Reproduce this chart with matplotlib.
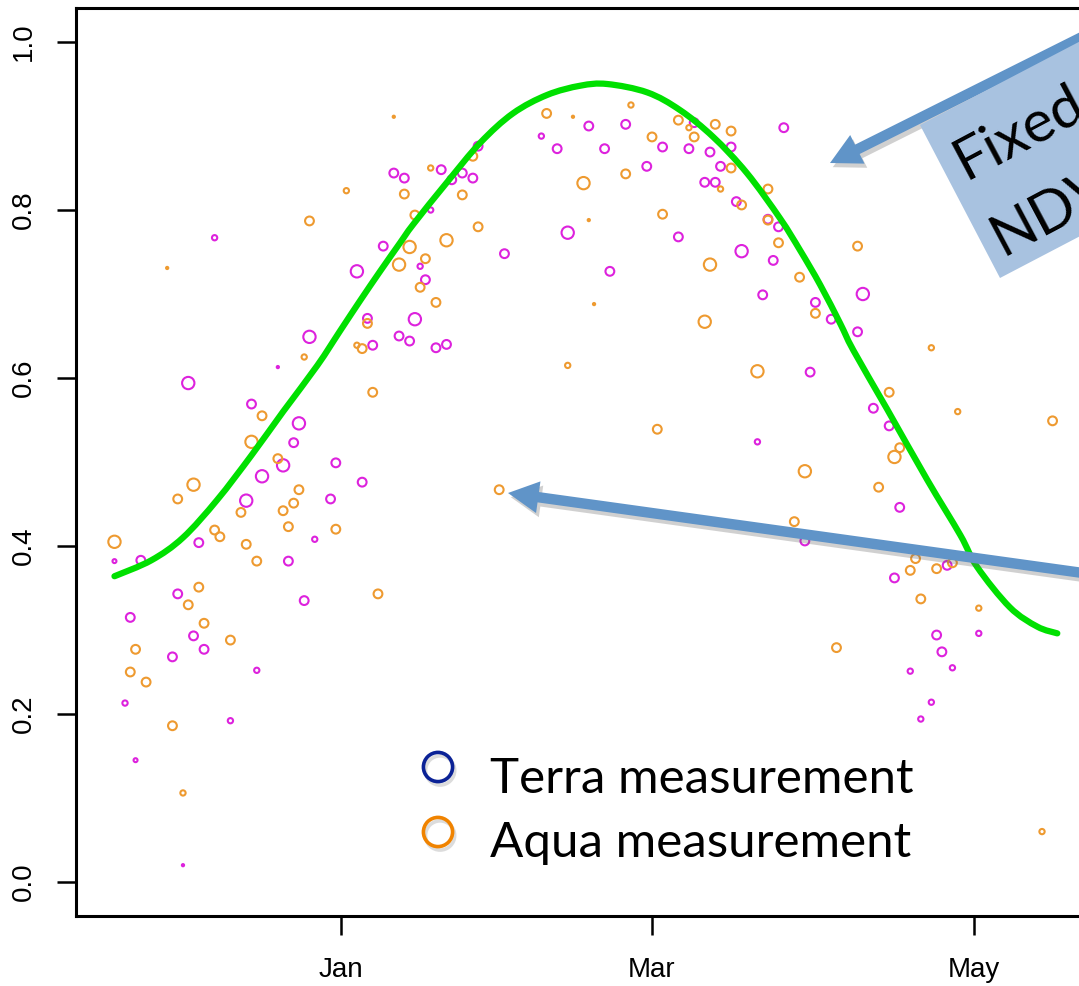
import matplotlib
matplotlib.use('Agg')
import matplotlib.pyplot as plt
import matplotlib.patheffects as pe
from matplotlib.patches import Polygon, PathPatch
from matplotlib.lines import Line2D
from matplotlib.path import Path

# days relative to 1 Jan, NDVI value, marker scale (cex) for each measurement
terra_day = [10, -24, 8, 3, 5, -6, 6, 11, 47, 54, 67, 84, 38, 41, 50, 61, 66, 70, 74, 26,
             58, 72, 12, 19, 21, 23, 25, 69, 71, 75, 17, 81, 83, 43, 64, 31, 76, 15, 82, 16,
             51, 80, 14, 13, 18, 20, 90, 93, 99, 98, -12, -29, -17, -8, -9, -11, -15, -1, 4, -18,
             -2, -5, -27, -43, -38, -10, -31, -7, -40, -28, -26, -32, -16, -41, -21, -39, -30, 79, 89, 101,
             104, 106, 88, 115, 105, 121, 113, 114, 108, 116, 112, 110]
terra_ndvi = [0.844, 0.767, 0.757, 0.727, 0.671, 0.649, 0.639, 0.650, 0.900, 0.902, 0.904, 0.898, 0.888, 0.873, 0.873, 0.875, 0.873, 0.869, 0.875, 0.876,
              0.852, 0.852, 0.838, 0.848, 0.836, 0.844, 0.838, 0.833, 0.833, 0.810, 0.800, 0.789, 0.780, 0.773, 0.768, 0.748, 0.751, 0.733, 0.740, 0.717,
              0.727, 0.699, 0.670, 0.644, 0.636, 0.640, 0.690, 0.670, 0.700, 0.655, 0.613, 0.594, 0.569, 0.546, 0.523, 0.496, 0.483, 0.499, 0.476, 0.454,
              0.456, 0.408, 0.404, 0.382, 0.383, 0.382, 0.343, 0.335, 0.315, 0.293, 0.277, 0.268, 0.252, 0.213, 0.192, 0.145, 0.020, 0.524, 0.607, 0.564,
              0.543, 0.446, 0.406, 0.377, 0.362, 0.296, 0.294, 0.274, 0.251, 0.255, 0.214, 0.194]
terra_cex = [1.0, 0.6, 1.0, 1.4, 1.0, 1.4, 1.0, 1.0, 1.0, 1.0, 1.0, 1.0, 0.6, 1.0, 1.0, 1.0, 1.0, 1.0, 1.0, 1.0,
             1.0, 1.0, 1.0, 1.0, 1.0, 1.0, 1.0, 1.0, 1.0, 1.0, 0.6, 1.0, 1.0, 1.4, 1.0, 1.0, 1.4, 0.6, 1.0, 1.0,
             1.0, 1.0, 1.4, 1.0, 1.0, 1.0, 1.0, 1.0, 1.4, 1.0, 0.25, 1.4, 1.0, 1.4, 1.0, 1.4, 1.4, 1.0, 1.0, 1.4,
             1.0, 0.6, 1.0, 0.45, 1.0, 1.0, 1.0, 1.0, 1.0, 1.0, 1.0, 1.0, 0.6, 0.6, 0.6, 0.45, 0.25, 0.6, 1.0, 1.0,
             1.0, 1.0, 1.0, 1.0, 1.0, 0.6, 1.0, 1.0, 0.6, 0.6, 0.6, 0.6]

aqua_day = [10, 1, -6, -33, 11, 5, 3, 39, 44, 55, 64, 66, 71, 74, 67, 59, 25, 74, 17, 12,
            23, 46, 54, 72, 81, 76, 14, 26, 61, 81, 20, 83, 13, 16, 15, 18, 70, 47, 48, 69,
            98, 87, 90, 112, -7, 4, 6, -15, -17, -12, -28, -31, -8, -9, -11, -19, -24, -23, -10, -1,
            -43, -18, -16, -27, -29, 7, -26, -21, -39, -40, -37, -32, -30, 43, 79, 60, 30, 104, 117, 135,
            106, 105, 88, 102, 86, 109, 108, 113, 116, 110, 121, 94, 133]
aqua_ndvi = [0.911, 0.823, 0.787, 0.731, 0.735, 0.665, 0.639, 0.915, 0.911, 0.925, 0.907, 0.898, 0.902, 0.894, 0.887, 0.887, 0.864, 0.850, 0.850, 0.819,
             0.818, 0.832, 0.843, 0.825, 0.825, 0.806, 0.794, 0.780, 0.795, 0.788, 0.764, 0.761, 0.756, 0.742, 0.708, 0.690, 0.735, 0.788, 0.688, 0.667,
             0.757, 0.720, 0.677, 0.636, 0.625, 0.635, 0.583, 0.555, 0.524, 0.504, 0.473, 0.456, 0.467, 0.451, 0.442, 0.440, 0.419, 0.411, 0.423, 0.420,
             0.405, 0.402, 0.382, 0.351, 0.330, 0.343, 0.308, 0.288, 0.277, 0.250, 0.238, 0.186, 0.106, 0.615, 0.608, 0.539, 0.467, 0.583, 0.560, 0.549,
             0.517, 0.506, 0.489, 0.470, 0.429, 0.385, 0.371, 0.373, 0.380, 0.337, 0.326, 0.279, 0.060]
aqua_cex = [0.25, 0.6, 1.0, 0.25, 1.4, 1.0, 0.6, 1.0, 0.25, 0.6, 1.0, 0.6, 1.0, 1.0, 1.0, 1.0, 1.0, 1.0, 0.6, 1.0,
            1.0, 1.4, 1.0, 0.6, 1.0, 1.0, 1.0, 1.0, 1.0, 1.0, 1.4, 1.0, 1.4, 1.0, 1.0, 1.0, 1.4, 0.25, 0.25, 1.4,
            1.0, 1.0, 1.0, 0.6, 0.6, 1.0, 1.0, 1.0, 1.4, 1.0, 1.4, 1.0, 1.0, 1.0, 1.0, 1.0, 1.0, 1.0, 1.0, 1.0,
            1.4, 1.0, 1.0, 1.0, 1.0, 1.0, 1.0, 1.0, 1.0, 1.0, 1.0, 1.0, 0.6, 0.6, 1.4, 1.0, 1.0, 1.0, 0.6, 1.0,
            1.0, 1.4, 1.4, 1.0, 1.0, 1.0, 1.0, 1.0, 1.0, 1.0, 0.6, 1.0, 0.6]

# fixed NDVI curve
curve_day = [-43, -36, -30, -23.5, -17, -11, -4.5, -0.2, 3.6, 7.4, 11.2, 13.7, 20.1, 26.4, 32.6, 39.1, 45.4, 50.5,
             58.1, 64.3, 70.6, 77.0, 83.3, 87.1, 90.9, 94.7, 97.2, 103.6, 111.2, 117.5, 120.7, 126.9, 132.1, 135.9]
curve_ndvi = [0.364, 0.383, 0.410, 0.455, 0.508, 0.560, 0.615, 0.656, 0.692, 0.727, 0.761, 0.783, 0.833, 0.880, 0.915, 0.937, 0.948, 0.950,
              0.940, 0.919, 0.887, 0.844, 0.790, 0.752, 0.711, 0.665, 0.633, 0.563, 0.479, 0.413, 0.375, 0.327, 0.304, 0.296]

month_ticks = [0, 59, 120]
month_labels = ['Jan', 'Mar', 'May']
ndvi_ticks = [0.0, 0.2, 0.4, 0.6, 0.8, 1.0]

W, H = 1079, 986


def fpx(x, y):
    # image pixel (from top-left) -> figure fraction
    return (x / W, 1 - y / H)


def smooth_path(xs, ys):
    # Catmull-Rom through the read points, drawn as cubic Bezier segments
    pts = list(zip(xs, ys))
    verts = [pts[0]]
    codes = [Path.MOVETO]
    n = len(pts)
    for i in range(n - 1):
        p0 = pts[i - 1] if i > 0 else pts[i]
        p1, p2 = pts[i], pts[i + 1]
        p3 = pts[i + 2] if i + 2 < n else pts[i + 1]
        c1 = (p1[0] + (p2[0] - p0[0]) / 6, p1[1] + (p2[1] - p0[1]) / 6)
        c2 = (p2[0] - (p3[0] - p1[0]) / 6, p2[1] - (p3[1] - p1[1]) / 6)
        verts += [c1, c2, p2]
        codes += [Path.CURVE4] * 3
    return Path(verts, codes)


fig = plt.figure(figsize=(W / 100, H / 100), dpi=100)
ax = fig.add_axes([76 / W, 1 - 916 / H, (1110 - 76) / W, 908 / H])

base = 8.8 * 0.72  # marker diameter in points for cex = 1
ax.scatter(terra_day, terra_ndvi, s=[(c * base) ** 2 for c in terra_cex],
           facecolors='none', edgecolors='#dd22dd', linewidths=1.5, zorder=3)
ax.scatter(aqua_day, aqua_ndvi, s=[(c * base) ** 2 for c in aqua_cex],
           facecolors='none', edgecolors='#ee9a30', linewidths=1.5, zorder=3)
ax.add_patch(PathPatch(smooth_path(curve_day, curve_ndvi), fill=False, edgecolor='#00e000',
                       lw=4.5, capstyle='round', zorder=4))

ax.set_xlim(-50.3, 145.9)
ax.set_ylim(-0.0405, 1.0405)
ax.set_xticks(month_ticks)
ax.set_xticklabels(month_labels, fontsize=20, family='Liberation Sans')
ax.set_yticks(ndvi_ticks)
ax.set_yticklabels(['%.1f' % v for v in ndvi_ticks], fontsize=20, family='Liberation Sans',
                   rotation=90, va='center')
ax.tick_params(axis='both', length=13.5, width=1.8)
ax.tick_params(axis='x', pad=16)
ax.tick_params(axis='y', pad=15)
for side in ['left', 'bottom', 'top']:
    ax.spines[side].set_linewidth(2.2)
ax.spines['right'].set_visible(False)

# blue label box (cut by the right edge)
k = 3.0
box = Polygon([fpx(920, 125), fpx(1000, 278), fpx(1000 + 153 * k, 278 - 80 * k), fpx(920 + 153 * k, 125 - 80 * k)],
              closed=True, transform=fig.transFigure, facecolor='#a8c2e0', edgecolor='none', zorder=5)
fig.add_artist(box)
fig.text(*fpx(966, 180), 'Fixed', rotation=28, rotation_mode='anchor', ha='left', va='baseline',
         fontsize=42, family='Lato', color='black', zorder=6)
fig.text(*fpx(1003, 256), 'NDVI', rotation=28, rotation_mode='anchor', ha='left', va='baseline',
         fontsize=42, family='Lato', color='black', zorder=6)

# arrows
shadow = [pe.SimplePatchShadow(offset=(2, -3), shadow_rgbFace='#666666', alpha=0.3), pe.Normal()]
for start, tip in [((1090, 33), (830, 163)), ((1090, 574), (508, 493))]:
    ann = ax.annotate('', xy=fpx(*tip), xycoords='figure fraction',
                      xytext=fpx(*start), textcoords='figure fraction', annotation_clip=False,
                      arrowprops=dict(arrowstyle='simple,head_width=2.3,head_length=2.2,tail_width=0.75',
                                      mutation_scale=10, facecolor='#6094c8', edgecolor='none',
                                      shrinkA=0, shrinkB=0, path_effects=shadow))
    ann.set_zorder(7)

# legend drawn by hand
ring_shadow = [pe.SimpleLineShadow(offset=(1.5, -2.5), shadow_color='#777777', alpha=0.25), pe.Normal()]
for y, col, label, base_y in [(767, '#0b2296', 'Terra measurement', 793),
                              (832, '#f08300', 'Aqua measurement', 857)]:
    x0, y0 = fpx(438, y)
    fig.add_artist(Line2D([x0], [y0], transform=fig.transFigure, marker='o', ms=21,
                          mfc='none', mec=col, mew=2.6, path_effects=ring_shadow))
    fig.text(*fpx(490, base_y), label, ha='left', va='baseline', fontsize=35.5, family='Lato')

fig.savefig('out.png', dpi=100)
